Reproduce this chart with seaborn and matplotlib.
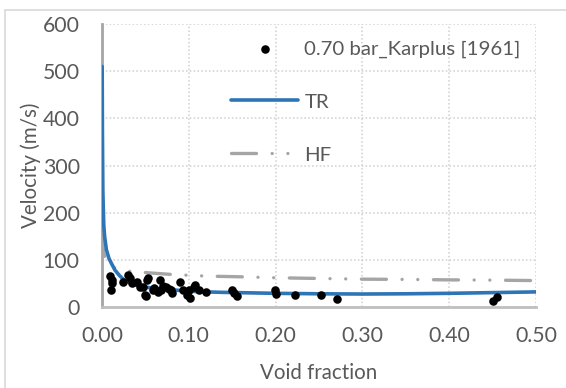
import matplotlib
matplotlib.use("Agg")
import matplotlib.pyplot as plt
import matplotlib.patches as mpatches
import seaborn as sns
import pandas as pd

# ---- data ----
exp_void = [0.009, 0.010, 0.011, 0.012, 0.024, 0.030, 0.032, 0.034, 0.040, 0.044,
            0.047, 0.0495, 0.051, 0.0515, 0.053, 0.059, 0.060, 0.065, 0.067, 0.0675,
            0.070, 0.074, 0.077, 0.080, 0.081, 0.090, 0.0937, 0.098, 0.100, 0.101,
            0.106, 0.107, 0.112, 0.120, 0.1495, 0.152, 0.155, 0.199, 0.200, 0.222,
            0.2525, 0.271, 0.451, 0.455]
exp_vel = [66, 36, 50, 58, 54, 68, 61, 50, 52, 43,
           43, 25, 24, 57, 61, 36, 40, 32, 57, 36,
           44, 43, 38, 36, 30, 54, 36, 25, 36, 20,
           43, 47, 36, 32, 37, 30, 24, 35, 27, 25,
           25, 16, 13, 22]

tr_void = [0.0002, 0.0005, 0.001, 0.002, 0.003, 0.005, 0.008, 0.011, 0.015, 0.02,
           0.025, 0.03, 0.04, 0.05, 0.07, 0.09, 0.11, 0.14, 0.17, 0.2,
           0.25, 0.3, 0.35, 0.4, 0.45, 0.5]
tr_vel = [510, 370, 245, 175, 150, 122, 103, 92, 78, 67,
          58, 53, 46, 42, 38, 35, 32.5, 31, 30, 29,
          28, 27.5, 28, 29, 30.5, 32]

hf_void = [0.0001, 0.0005, 0.001, 0.002, 0.004, 0.007, 0.012, 0.02, 0.03, 0.05,
           0.08, 0.12, 0.16, 0.2, 0.25, 0.3, 0.35, 0.4, 0.45, 0.5]
hf_vel = [160, 140, 128, 115, 102, 93, 85, 79, 76, 73,
          69, 65.5, 64, 62, 60.5, 59, 58.5, 57.5, 57, 56]

x_ticks = [0.0, 0.1, 0.2, 0.3, 0.4, 0.5]
x_ticklabels = ["0.00", "0.10", "0.20", "0.30", "0.40", "0.50"]
y_ticks = [0, 100, 200, 300, 400, 500, 600]

exp_label = "0.70 bar_Karplus [1961]"
tr_label = "TR"
hf_label = "HF"

df_exp = pd.DataFrame({"void": exp_void, "vel": exp_vel})
df_tr = pd.DataFrame({"void": tr_void, "vel": tr_vel})
df_hf = pd.DataFrame({"void": hf_void, "vel": hf_vel})

sns.set_theme(style="white")
plt.rcParams["font.family"] = ["Lato", "DejaVu Sans"]
txt = "#595959"

fig = plt.figure(figsize=(5.66, 3.88), dpi=100)
ax = fig.add_axes([102/566, 1-307/388, (536-102)/566, (307-24)/388])

# outer chart frame
fig.patches.append(mpatches.Rectangle((5/566, -0.1), 1.2, 1-10/388+0.1,
                                      transform=fig.transFigure, fill=False,
                                      edgecolor="#D9D9D9", lw=1.2, zorder=0))

sns.lineplot(data=df_hf, x="void", y="vel", ax=ax, color="#A5A5A5", lw=2.4,
             sort=False, estimator=None, label=hf_label, zorder=2)
ax.lines[-1].set_linestyle((0, (7.5, 4.7, 0.01, 4.7, 0.01, 4.7)))
ax.lines[-1].set_dash_capstyle("round")
sns.lineplot(data=df_tr, x="void", y="vel", ax=ax, color="#2E75B6", lw=2.6,
             sort=False, estimator=None, label=tr_label, zorder=3)
sns.scatterplot(data=df_exp, x="void", y="vel", ax=ax, color="black", s=38,
                edgecolor="black", linewidth=0, label=exp_label, zorder=4)

ax.set_xlim(0, 0.5)
ax.set_ylim(0, 600)
ax.set_xticks(x_ticks)
ax.set_xticklabels(x_ticklabels)
ax.set_yticks(y_ticks)
ax.tick_params(axis="both", length=0, labelsize=15.3, colors=txt)
ax.tick_params(axis="y", pad=16)
ax.tick_params(axis="x", pad=14)
ax.grid(True, ls=(0, (1, 1.5)), color="#CFCFCF", lw=1.1)
ax.set_axisbelow(True)
for s in ["top", "right"]:
    ax.spines[s].set_visible(False)
ax.spines["left"].set_color("#A5A5A5")
ax.spines["left"].set_linewidth(2.0)
ax.spines["bottom"].set_color("#BFBFBF")
ax.spines["bottom"].set_linewidth(2.0)

ax.set_xlabel("Void fraction", fontsize=14.8, color=txt, labelpad=12)
ax.set_ylabel("Velocity (m/s)", fontsize=14.8, color=txt, labelpad=1)

h, l = ax.get_legend_handles_labels()
order = [l.index(exp_label), l.index(tr_label), l.index(hf_label)]
leg = ax.legend([h[i] for i in order], [l[i] for i in order], loc="upper left",
                bbox_to_anchor=((231-102)/434, 1-(40-24)/283), frameon=False,
                fontsize=14.7, handlelength=3.3, handletextpad=0.3,
                labelspacing=1.75, borderpad=0, borderaxespad=0,
                scatterpoints=1, markerscale=1.0)
for t in leg.get_texts():
    t.set_color(txt)

fig.savefig("out.png", dpi=100)
